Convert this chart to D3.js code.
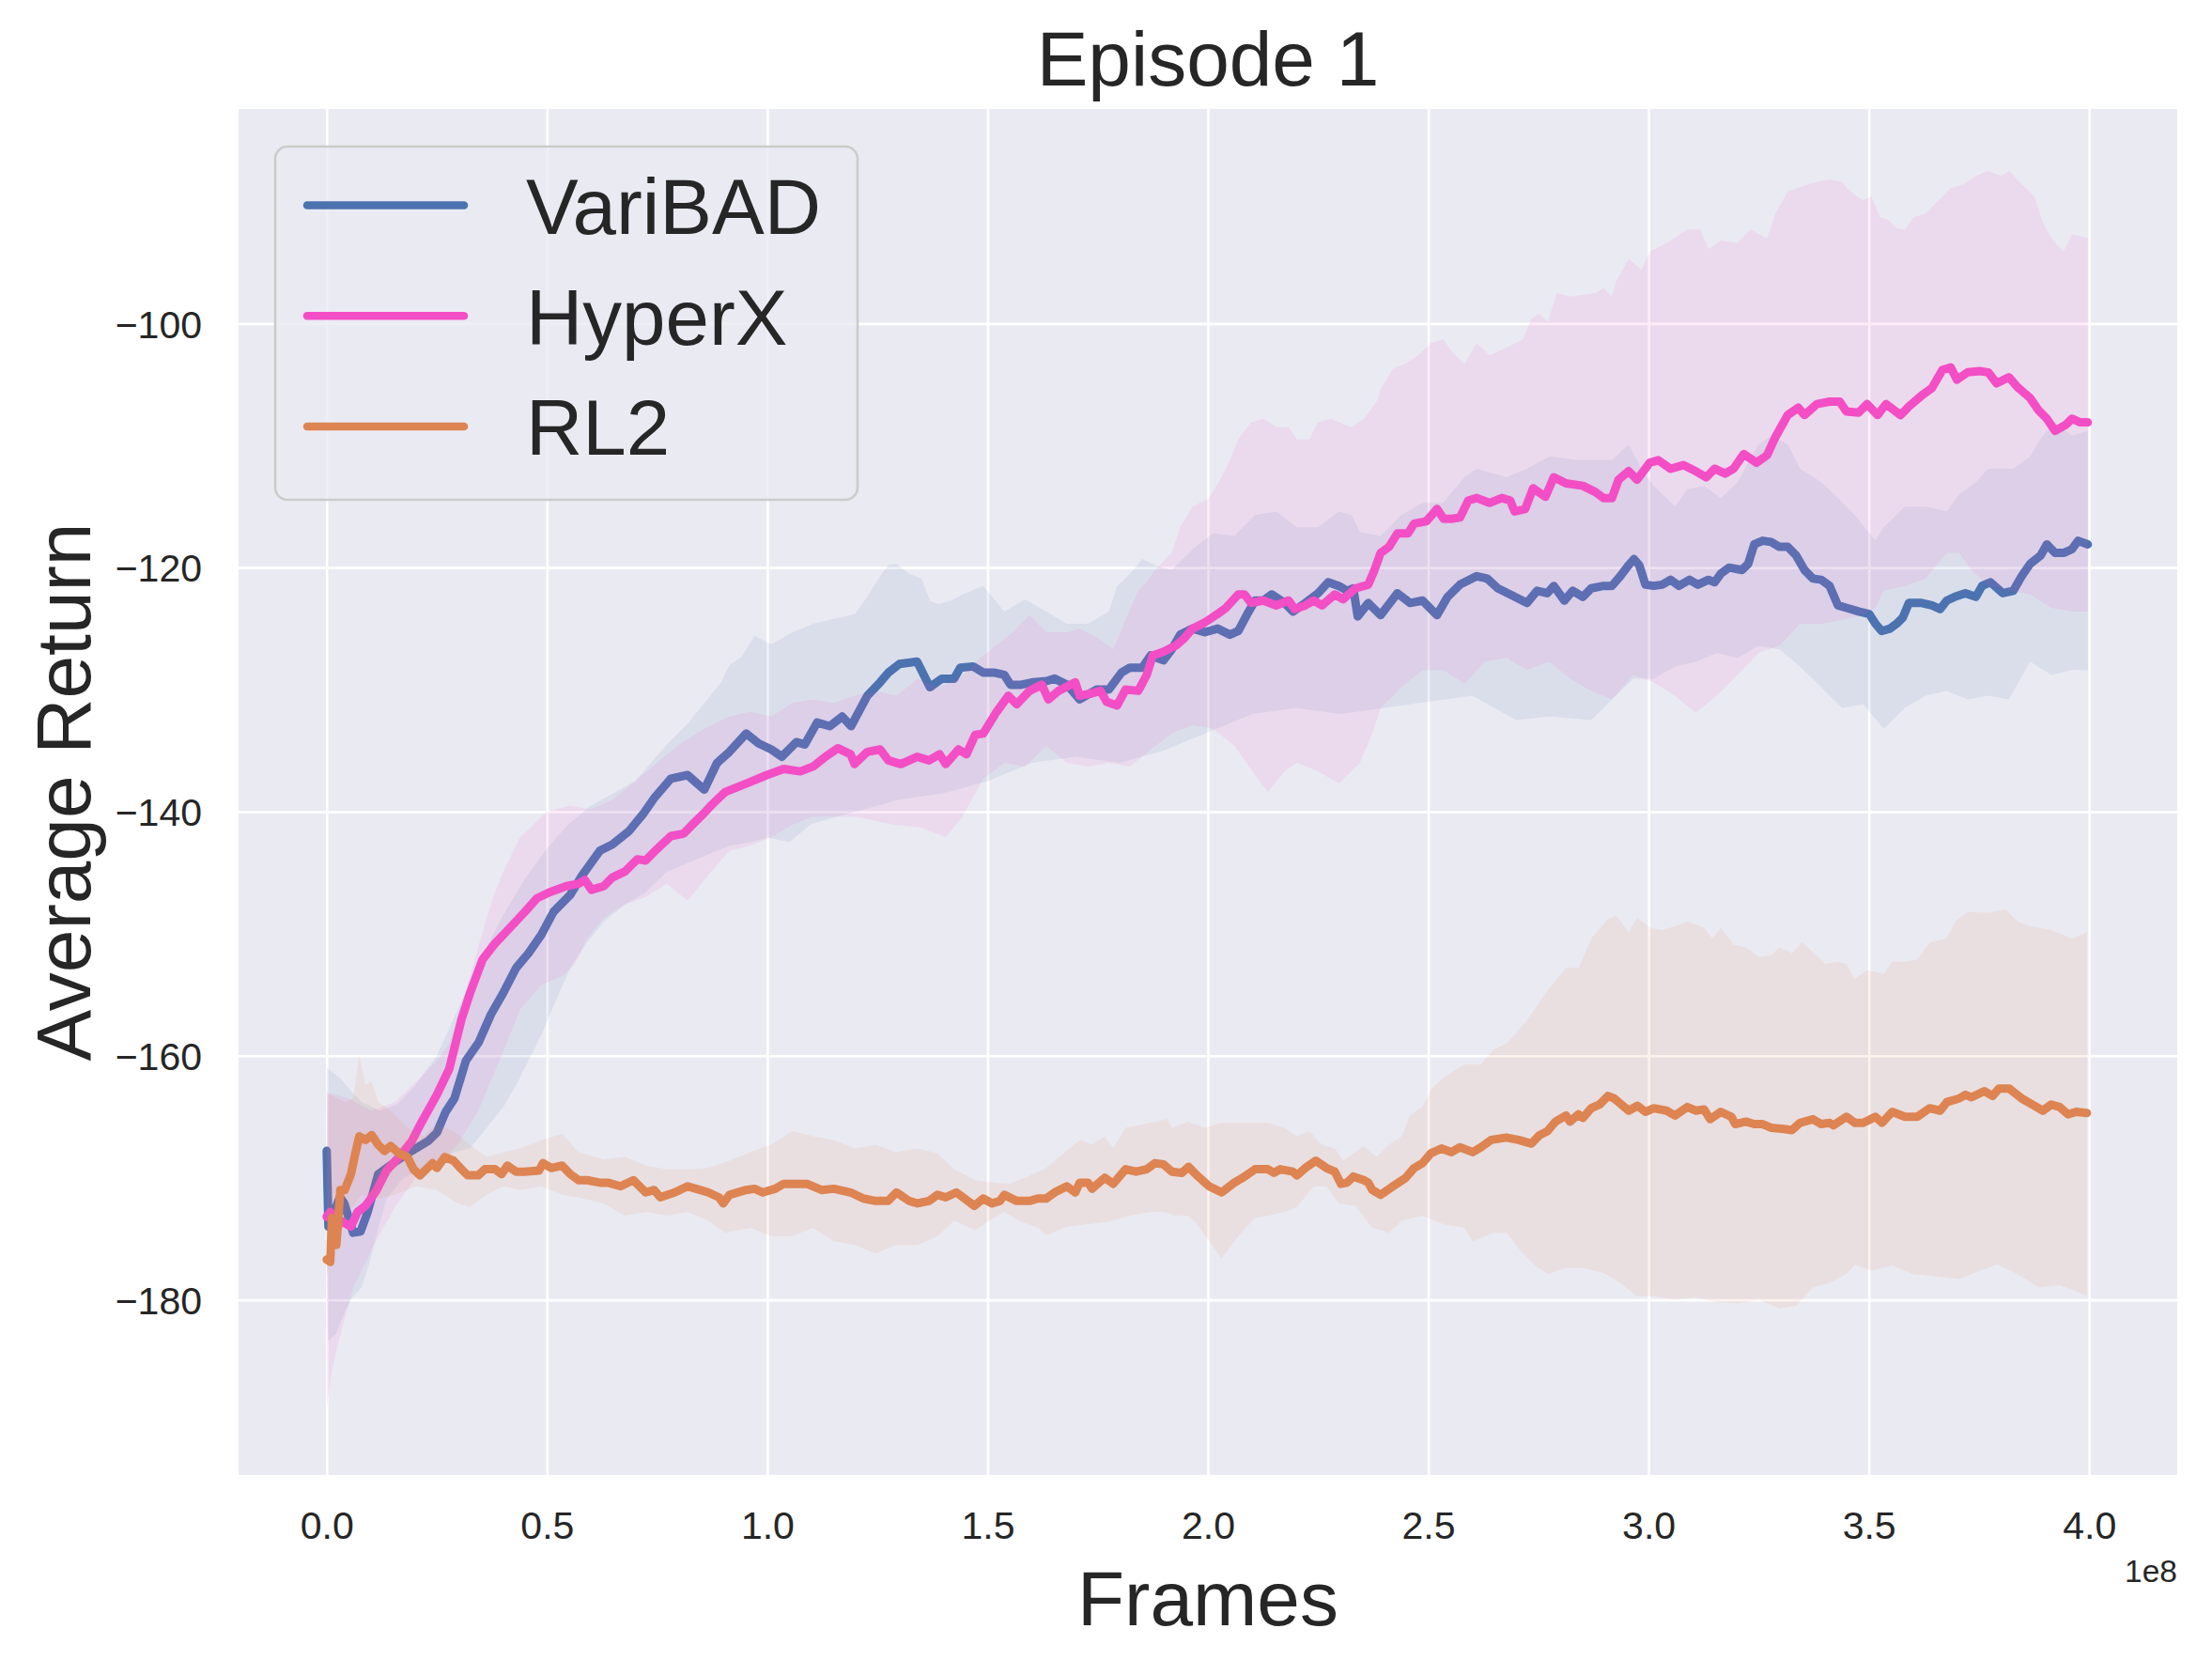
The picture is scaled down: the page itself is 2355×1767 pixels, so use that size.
<!DOCTYPE html>
<html>
<head>
    <meta charset="utf-8" />
    <title>Episode 1</title>
    <style>
        body{
            margin:0;
            background:#fff;
        }
        text{
            font-family:"Liberation Sans", Arial, sans-serif;
            fill:#262626;
        }
    </style>
</head>
<body>
    <div id="chart"></div>
    <script src="https://cdn.jsdelivr.net/npm/d3@7"></script>
    <script>
        // x in units of 1e8 frames, y = average return
        var seriesNames = ["VariBAD", "HyperX", "RL2"];
        var seriesColors = ["#4c72b0", "#f34ec5", "#dd8452"];
        var xTicks = [0, 0.5, 1, 1.5, 2, 2.5, 3, 3.5, 4];
        var yTicks = [-180, -160, -140, -120, -100];
        var xLimits = [-0.2, 4.2];
        var yLimits = [-194.35, -82.42];

        var varibadMean = [[0,-167.8],[0.004,-174],[0.02,-172.5],[0.03,-171.6],[0.04,-172.1],[0.06,-174.5],[0.077,-174.4],[0.093,-172.8],[0.117,-169.7],[0.155,-168.7],[0.193,-167.8],[0.23,-167],[0.25,-166.3],[0.27,-164.6],[0.29,-163.5],[0.316,-160.4],[0.345,-158.9],[0.373,-156.6],[0.4,-154.9],[0.43,-152.8],[0.458,-151.6],[0.487,-150.1],[0.515,-148.2],[0.553,-146.8],[0.58,-145.2],[0.62,-143.2],[0.648,-142.7],[0.686,-141.6],[0.72,-140.1],[0.743,-138.9],[0.781,-137.3],[0.819,-137.0],[0.857,-138.2],[0.886,-136.0],[0.914,-135.1],[0.952,-133.6],[0.98,-134.4],[1.009,-134.9],[1.033,-135.5],[1.066,-134.3],[1.085,-134.5],[1.113,-132.7],[1.142,-133.0],[1.17,-132.2],[1.19,-133.0],[1.227,-130.5],[1.256,-129.4],[1.275,-128.6],[1.3,-127.9],[1.34,-127.7],[1.369,-129.8],[1.396,-129.1],[1.424,-129.1],[1.438,-128.2],[1.467,-128.1],[1.49,-128.6],[1.514,-128.6],[1.538,-128.8],[1.552,-129.6],[1.576,-129.6],[1.604,-129.4],[1.633,-129.3],[1.652,-129.1],[1.68,-129.6],[1.709,-130.8],[1.747,-130.0],[1.775,-130.0],[1.804,-128.6],[1.823,-128.2],[1.851,-128.2],[1.87,-127.2],[1.899,-127.6],[1.918,-126.7],[1.937,-125.5],[1.965,-125.0],[1.993,-125.3],[2.022,-125.0],[2.05,-125.5],[2.069,-125.2],[2.088,-123.9],[2.107,-122.7],[2.126,-122.7],[2.145,-122.2],[2.174,-122.9],[2.193,-123.6],[2.221,-122.9],[2.25,-122.1],[2.273,-121.2],[2.297,-121.5],[2.316,-121.9],[2.33,-121.7],[2.34,-124.0],[2.364,-122.9],[2.392,-123.9],[2.43,-122.1],[2.459,-122.9],[2.487,-122.7],[2.52,-123.9],[2.544,-122.4],[2.572,-121.4],[2.61,-120.7],[2.634,-120.9],[2.658,-121.7],[2.686,-122.2],[2.724,-122.9],[2.747,-121.9],[2.77,-122.1],[2.785,-121.5],[2.809,-122.7],[2.828,-121.9],[2.851,-122.4],[2.87,-121.7],[2.898,-121.5],[2.917,-121.5],[2.936,-120.7],[2.955,-119.8],[2.967,-119.3],[2.979,-119.8],[2.993,-121.4],[3.012,-121.5],[3.031,-121.4],[3.05,-121.0],[3.069,-121.5],[3.093,-121.0],[3.112,-121.4],[3.136,-121.0],[3.15,-121.2],[3.164,-120.5],[3.183,-120.0],[3.212,-120.2],[3.226,-119.7],[3.24,-118.1],[3.259,-117.8],[3.278,-117.9],[3.297,-118.3],[3.316,-118.3],[3.335,-119.0],[3.354,-120.2],[3.373,-120.9],[3.392,-121.0],[3.411,-121.5],[3.43,-123.1],[3.449,-123.3],[3.477,-123.6],[3.501,-123.8],[3.515,-124.6],[3.529,-125.2],[3.548,-125.0],[3.563,-124.6],[3.577,-124.1],[3.591,-122.9],[3.62,-122.9],[3.643,-123.1],[3.662,-123.4],[3.677,-122.7],[3.695,-122.4],[3.719,-122.1],[3.743,-122.4],[3.757,-121.5],[3.776,-121.2],[3.804,-122.1],[3.828,-121.9],[3.847,-120.7],[3.866,-119.7],[3.89,-119.0],[3.904,-118.1],[3.923,-118.8],[3.942,-118.8],[3.961,-118.5],[3.975,-117.8],[3.997,-118.1]];
        var varibadUpper = [[0,-161],[0.03,-161.8],[0.06,-163.1],[0.08,-163.8],[0.12,-164.5],[0.16,-164],[0.2,-162.5],[0.25,-160],[0.3,-156],[0.35,-152],[0.4,-148.5],[0.45,-145.5],[0.5,-143],[0.55,-141],[0.6,-139.5],[0.65,-138.5],[0.7,-137.5],[0.772,-134.5],[0.819,-132.8],[0.866,-130.7],[0.895,-129.4],[0.914,-128.0],[0.942,-127.3],[0.971,-125.6],[1.009,-126.3],[1.057,-125.3],[1.104,-124.6],[1.151,-124.2],[1.199,-123.8],[1.227,-122.4],[1.256,-120.7],[1.275,-119.8],[1.294,-119.7],[1.322,-120.5],[1.35,-120.9],[1.369,-122.7],[1.388,-123.0],[1.417,-122.7],[1.443,-122.2],[1.49,-121.5],[1.538,-123.6],[1.585,-122.6],[1.633,-123.6],[1.68,-124.6],[1.728,-124.6],[1.775,-123.6],[1.794,-121.5],[1.823,-120.5],[1.851,-119.3],[1.88,-119.8],[1.918,-120.2],[1.965,-118.5],[2.012,-117.2],[2.06,-117.4],[2.107,-115.7],[2.155,-115.4],[2.202,-116.7],[2.25,-116.7],[2.297,-115.4],[2.326,-115.7],[2.345,-117.1],[2.392,-117.4],[2.439,-115.7],[2.487,-114.7],[2.534,-114.7],[2.582,-112.6],[2.61,-111.9],[2.677,-112.6],[2.724,-111.9],[2.775,-110.9],[2.841,-111.2],[2.917,-111.2],[2.955,-109.9],[2.984,-111.9],[3.012,-113.3],[3.06,-115.0],[3.088,-113.6],[3.126,-113.3],[3.164,-114.3],[3.202,-113.0],[3.25,-109.9],[3.278,-109.2],[3.316,-109.9],[3.344,-111.9],[3.392,-113.0],[3.43,-114.3],[3.468,-115.7],[3.515,-117.8],[3.534,-116.7],[3.582,-115.0],[3.629,-115.0],[3.677,-115.4],[3.705,-114.0],[3.743,-113.0],[3.771,-111.9],[3.828,-111.9],[3.866,-110.9],[3.894,-109.2],[3.923,-108.1],[3.961,-109.2],[3.997,-108.8]];
        var varibadLower = [[0,-176],[0.003,-183.4],[0.022,-182.7],[0.041,-181],[0.06,-179.7],[0.079,-179],[0.098,-176.9],[0.117,-174.1],[0.136,-171.7],[0.174,-170],[0.212,-169.3],[0.25,-168.6],[0.288,-167.9],[0.325,-167.6],[0.363,-165.9],[0.401,-164.2],[0.43,-162.4],[0.458,-160.4],[0.487,-158.3],[0.515,-155.9],[0.553,-152.8],[0.591,-150.7],[0.629,-149],[0.677,-147.6],[0.724,-146.6],[0.772,-144.9],[0.819,-144.2],[0.866,-143.5],[0.914,-142.8],[0.961,-142.5],[1.0,-142.1],[1.05,-142.5],[1.1,-141],[1.2,-140],[1.3,-139],[1.4,-138.5],[1.5,-137.5],[1.6,-136],[1.7,-135.5],[1.8,-136],[1.9,-135],[2.0,-133.5],[2.1,-132],[2.2,-131.5],[2.3,-132],[2.4,-131.5],[2.5,-131],[2.6,-130.5],[2.7,-132.5],[2.775,-132.2],[2.87,-132.5],[2.917,-130.8],[2.965,-129.1],[3.012,-129.1],[3.06,-128.1],[3.107,-127.7],[3.155,-127.0],[3.202,-127.4],[3.25,-126.4],[3.297,-126.7],[3.344,-128.1],[3.392,-129.8],[3.439,-131.5],[3.487,-131.2],[3.534,-133.2],[3.582,-131.5],[3.629,-130.5],[3.677,-130.1],[3.724,-130.8],[3.771,-130.5],[3.818,-130.8],[3.866,-127.7],[3.914,-128.8],[3.961,-128.4],[3.997,-128.4]];

        var hyperxMean = [[0,-173.2],[0.008,-172.8],[0.02,-173.3],[0.04,-173.7],[0.055,-174],[0.07,-172.8],[0.088,-172.3],[0.112,-171.1],[0.136,-169.4],[0.164,-168.3],[0.193,-167],[0.216,-165.4],[0.25,-163.2],[0.278,-161.1],[0.306,-157],[0.325,-154.9],[0.354,-152.1],[0.382,-150.8],[0.411,-149.7],[0.45,-148.2],[0.477,-147.1],[0.506,-146.6],[0.544,-146.1],[0.572,-145.9],[0.586,-145.6],[0.601,-146.4],[0.629,-146.1],[0.648,-145.4],[0.677,-144.9],[0.705,-143.9],[0.724,-144],[0.743,-143.3],[0.781,-142],[0.81,-141.8],[0.829,-141.1],[0.857,-140.1],[0.875,-139.4],[0.904,-138.4],[0.952,-137.7],[0.999,-137.0],[1.037,-136.5],[1.075,-136.7],[1.104,-136.3],[1.132,-135.5],[1.16,-134.8],[1.189,-135.3],[1.198,-136.1],[1.227,-135.1],[1.256,-134.9],[1.275,-135.8],[1.303,-136.1],[1.34,-135.5],[1.367,-135.8],[1.391,-135.3],[1.405,-136.1],[1.434,-134.9],[1.452,-135.3],[1.472,-133.7],[1.49,-133.6],[1.519,-131.9],[1.547,-130.5],[1.566,-131.2],[1.595,-130.1],[1.623,-129.6],[1.638,-130.8],[1.661,-130.1],[1.699,-129.4],[1.709,-130.5],[1.737,-130.3],[1.756,-130.1],[1.77,-131],[1.794,-131.3],[1.813,-130.0],[1.842,-130.1],[1.861,-128.8],[1.875,-127.2],[1.899,-126.9],[1.927,-126.4],[1.946,-125.8],[1.965,-125.0],[1.993,-124.5],[2.022,-123.8],[2.041,-123.3],[2.069,-122.2],[2.083,-122.2],[2.098,-122.9],[2.126,-122.7],[2.155,-123.1],[2.183,-122.7],[2.197,-123.4],[2.221,-123.1],[2.24,-122.7],[2.259,-123.1],[2.288,-122.2],[2.307,-122.6],[2.335,-121.7],[2.364,-121.4],[2.378,-120.2],[2.392,-118.8],[2.411,-118.3],[2.43,-117.2],[2.454,-117.2],[2.468,-116.4],[2.496,-116.2],[2.52,-115.2],[2.535,-116.0],[2.553,-116.0],[2.572,-115.9],[2.591,-114.5],[2.61,-114.3],[2.639,-114.7],[2.667,-114.3],[2.686,-114.5],[2.696,-115.4],[2.72,-115.2],[2.738,-113.5],[2.766,-114.2],[2.785,-112.6],[2.813,-113.1],[2.851,-113.3],[2.879,-113.8],[2.898,-114.3],[2.917,-114.3],[2.932,-112.8],[2.955,-112.1],[2.974,-112.8],[3.003,-111.4],[3.022,-111.2],[3.05,-111.9],[3.079,-111.6],[3.107,-112.1],[3.131,-112.6],[3.15,-111.9],[3.174,-112.3],[3.193,-111.9],[3.216,-110.7],[3.245,-111.4],[3.269,-110.8],[3.288,-109.3],[3.316,-107.5],[3.34,-106.9],[3.354,-107.5],[3.382,-106.6],[3.411,-106.4],[3.434,-106.4],[3.449,-107.2],[3.477,-107.3],[3.496,-106.6],[3.52,-107.5],[3.539,-106.6],[3.572,-107.5],[3.591,-106.8],[3.62,-105.9],[3.643,-105.3],[3.667,-103.8],[3.686,-103.6],[3.7,-104.6],[3.724,-104.0],[3.752,-103.9],[3.771,-104.0],[3.79,-104.9],[3.818,-104.4],[3.837,-105.2],[3.866,-106.1],[3.885,-107.1],[3.904,-107.8],[3.923,-108.8],[3.947,-108.3],[3.961,-107.8],[3.98,-108.1],[3.997,-108.1]];
        var hyperxUpper = [[0,-163],[0.05,-163.5],[0.1,-164.5],[0.155,-163.8],[0.212,-161.8],[0.25,-160.4],[0.278,-159.0],[0.306,-155.9],[0.325,-153.5],[0.344,-151.1],[0.363,-148.7],[0.382,-146.6],[0.401,-144.9],[0.42,-143.5],[0.439,-142.1],[0.468,-141.1],[0.496,-140.1],[0.55,-139.5],[0.6,-139.8],[0.65,-139],[0.7,-137.5],[0.75,-136],[0.8,-134.5],[0.857,-133.2],[0.914,-132.2],[0.961,-131.8],[1.009,-132.2],[1.057,-131.1],[1.104,-130.8],[1.151,-131.1],[1.199,-130.5],[1.246,-130.1],[1.294,-130.5],[1.34,-129.1],[1.388,-129.8],[1.436,-129.1],[1.48,-127.5],[1.519,-126.4],[1.557,-125.3],[1.595,-123.9],[1.633,-125.3],[1.68,-125.3],[1.709,-125.0],[1.747,-125.7],[1.785,-126.7],[1.813,-124.3],[1.842,-121.9],[1.861,-121.2],[1.88,-120.2],[1.918,-118.8],[1.937,-116.7],[1.965,-115.0],[2.003,-114.3],[2.031,-112.6],[2.05,-111.2],[2.069,-109.5],[2.098,-108.1],[2.126,-107.8],[2.155,-108.5],[2.183,-108.5],[2.202,-109.5],[2.23,-109.5],[2.25,-108.1],[2.278,-107.8],[2.326,-108.5],[2.354,-107.8],[2.383,-106.4],[2.392,-105.4],[2.42,-103.7],[2.449,-103.3],[2.477,-102.6],[2.506,-101.6],[2.534,-101.3],[2.553,-102.3],[2.582,-103.3],[2.61,-101.6],[2.639,-102.6],[2.677,-102.0],[2.715,-101.3],[2.734,-99.6],[2.753,-99.2],[2.772,-99.9],[2.791,-97.5],[2.822,-97.8],[2.879,-97.5],[2.898,-97.1],[2.917,-97.8],[2.927,-96.5],[2.955,-94.7],[2.984,-95.6],[3.003,-94.1],[3.041,-93.4],[3.088,-92.3],[3.117,-92.3],[3.136,-93.9],[3.164,-93.2],[3.202,-93.4],[3.231,-92.3],[3.269,-93.0],[3.288,-91.0],[3.316,-89.2],[3.354,-88.7],[3.382,-88.4],[3.411,-88.2],[3.439,-88.4],[3.458,-89.2],[3.487,-89.9],[3.506,-89.6],[3.525,-91.3],[3.544,-91.5],[3.563,-92.2],[3.582,-92.3],[3.601,-91.3],[3.629,-91.0],[3.658,-89.9],[3.686,-88.9],[3.715,-88.6],[3.743,-87.9],[3.771,-87.5],[3.8,-87.9],[3.819,-87.5],[3.847,-88.6],[3.876,-89.6],[3.895,-91.7],[3.914,-93.0],[3.942,-94.1],[3.961,-92.7],[3.997,-93.0]];
        var hyperxLower = [[0,-189],[0.01,-186],[0.03,-183],[0.06,-179],[0.107,-175.5],[0.155,-172.4],[0.202,-170],[0.25,-169],[0.297,-167.3],[0.344,-164.5],[0.392,-160.4],[0.439,-156.2],[0.487,-154.2],[0.534,-153.5],[0.563,-152.5],[0.591,-150.4],[0.629,-148.7],[0.677,-147.6],[0.724,-147],[0.772,-145.9],[0.819,-147.3],[0.866,-145.2],[0.914,-143.2],[0.961,-142.8],[1.009,-142.1],[1.056,-141.1],[1.104,-140.4],[1.2,-140.4],[1.29,-141.1],[1.348,-141.3],[1.405,-142.1],[1.443,-140.4],[1.49,-137.3],[1.538,-136],[1.585,-136.3],[1.633,-134.6],[1.68,-136.0],[1.728,-136.3],[1.775,-136.0],[1.823,-136.3],[1.87,-134.9],[1.918,-133.6],[1.965,-132.9],[2.012,-133.2],[2.06,-134.6],[2.107,-137.0],[2.136,-138.4],[2.174,-136.7],[2.202,-136.0],[2.25,-136.7],[2.297,-137.7],[2.345,-136.0],[2.373,-133.6],[2.392,-131.5],[2.439,-129.8],[2.487,-128.4],[2.534,-128.4],[2.582,-129.5],[2.629,-127.7],[2.677,-127.4],[2.724,-128.4],[2.775,-127.7],[2.822,-129.1],[2.87,-130.1],[2.917,-130.8],[2.965,-128.8],[3.012,-129.4],[3.06,-130.5],[3.107,-131.9],[3.155,-130.5],[3.202,-128.8],[3.25,-127.0],[3.297,-126.4],[3.344,-124.6],[3.392,-124.6],[3.439,-124.3],[3.487,-123.9],[3.515,-123.3],[3.534,-121.9],[3.582,-121.5],[3.629,-120.9],[3.677,-118.8],[3.705,-118.8],[3.733,-120.2],[3.771,-121.5],[3.818,-121.9],[3.866,-122.2],[3.914,-123.3],[3.961,-123.6],[3.997,-123.6]];

        var rl2Mean = [[0,-176.7],[0.008,-176.9],[0.012,-173.3],[0.022,-175.5],[0.031,-171.0],[0.041,-171.0],[0.055,-169.7],[0.065,-168],[0.074,-166.6],[0.088,-166.9],[0.102,-166.5],[0.117,-167.3],[0.131,-167.8],[0.145,-167.4],[0.164,-168],[0.183,-168.3],[0.197,-169.3],[0.212,-169.8],[0.24,-168.8],[0.25,-169.2],[0.268,-168.3],[0.288,-168.6],[0.306,-169.3],[0.32,-169.8],[0.344,-169.8],[0.359,-169.3],[0.382,-169.3],[0.397,-169.7],[0.41,-169.0],[0.43,-169.5],[0.449,-169.5],[0.482,-169.4],[0.491,-168.8],[0.51,-169.2],[0.534,-169.0],[0.553,-169.7],[0.572,-170.2],[0.591,-170.2],[0.62,-170.4],[0.638,-170.4],[0.667,-170.7],[0.696,-170.2],[0.724,-171.2],[0.743,-171.0],[0.757,-171.6],[0.79,-171.2],[0.819,-170.7],[0.838,-170.9],[0.866,-171.2],[0.89,-171.6],[0.9,-172.1],[0.914,-171.4],[0.952,-171.0],[0.971,-170.9],[0.99,-171.2],[1.018,-170.9],[1.037,-170.5],[1.066,-170.5],[1.09,-170.5],[1.123,-171.0],[1.151,-170.9],[1.189,-171.2],[1.218,-171.7],[1.246,-171.9],[1.274,-171.9],[1.293,-171.2],[1.322,-171.9],[1.341,-172.1],[1.367,-171.9],[1.386,-171.4],[1.405,-171.6],[1.429,-171.2],[1.448,-171.7],[1.47,-172.3],[1.49,-171.7],[1.51,-172.1],[1.528,-171.9],[1.538,-171.4],[1.566,-171.9],[1.595,-171.9],[1.614,-171.7],[1.633,-171.7],[1.652,-171.2],[1.68,-170.7],[1.699,-171.2],[1.709,-170.4],[1.728,-170.4],[1.737,-170.9],[1.766,-170.0],[1.785,-170.5],[1.813,-169.3],[1.837,-169.5],[1.861,-169.3],[1.88,-168.8],[1.899,-168.9],[1.918,-169.5],[1.941,-169.6],[1.956,-169.1],[1.975,-169.8],[2.003,-170.7],[2.031,-171.2],[2.06,-170.4],[2.079,-170.0],[2.107,-169.3],[2.136,-169.3],[2.15,-169.6],[2.164,-169.3],[2.193,-169.5],[2.202,-169.8],[2.221,-169.2],[2.245,-168.6],[2.269,-169.2],[2.288,-169.5],[2.302,-170.5],[2.316,-170.4],[2.33,-169.9],[2.354,-170.2],[2.364,-170.4],[2.373,-171.0],[2.392,-171.4],[2.42,-170.7],[2.449,-170.0],[2.468,-169.2],[2.487,-168.8],[2.506,-168.0],[2.53,-167.6],[2.553,-167.9],[2.572,-167.5],[2.601,-167.9],[2.62,-167.5],[2.643,-166.9],[2.677,-166.7],[2.705,-166.9],[2.734,-167.2],[2.753,-166.5],[2.77,-166.2],[2.789,-165.4],[2.813,-164.9],[2.822,-165.4],[2.841,-164.8],[2.851,-165.1],[2.87,-164.3],[2.889,-164.0],[2.908,-163.3],[2.922,-163.5],[2.932,-163.8],[2.955,-164.5],[2.975,-164.1],[2.993,-164.6],[3.012,-164.3],[3.041,-164.5],[3.06,-164.9],[3.088,-164.2],[3.107,-164.5],[3.126,-164.4],[3.14,-165.2],[3.164,-164.6],[3.188,-165.0],[3.197,-165.6],[3.221,-165.4],[3.24,-165.6],[3.259,-165.6],[3.278,-165.9],[3.307,-166.0],[3.325,-166.1],[3.344,-165.5],[3.373,-165.2],[3.392,-165.6],[3.411,-165.5],[3.42,-165.7],[3.449,-165.0],[3.468,-165.5],[3.487,-165.5],[3.515,-165.0],[3.53,-165.5],[3.553,-164.6],[3.582,-165.0],[3.61,-165.0],[3.638,-164.3],[3.662,-164.5],[3.677,-163.8],[3.705,-163.5],[3.719,-163.2],[3.733,-163.4],[3.762,-162.9],[3.781,-163.3],[3.795,-162.7],[3.819,-162.7],[3.847,-163.5],[3.876,-164.1],[3.895,-164.5],[3.914,-164.0],[3.933,-164.2],[3.952,-164.8],[3.971,-164.6],[3.995,-164.7]];
        var rl2Upper = [[0,-172],[0.003,-163.1],[0.041,-163.8],[0.06,-163.5],[0.074,-160.0],[0.088,-162.4],[0.102,-162.1],[0.117,-163.8],[0.145,-164.5],[0.183,-165.9],[0.221,-166.6],[0.25,-165.5],[0.288,-166.2],[0.325,-167.3],[0.363,-168.3],[0.401,-167.9],[0.439,-167.6],[0.487,-166.9],[0.534,-166.4],[0.572,-167.9],[0.629,-168.5],[0.677,-168.3],[0.724,-169.0],[0.772,-169.3],[0.819,-169.3],[0.866,-169.2],[0.914,-168.6],[0.961,-167.9],[1.009,-167.3],[1.056,-166.2],[1.104,-166.6],[1.151,-166.9],[1.199,-167.6],[1.246,-167.3],[1.293,-167.9],[1.341,-167.6],[1.386,-168.0],[1.424,-169.3],[1.472,-170.2],[1.519,-170.4],[1.547,-170.5],[1.585,-170.0],[1.633,-169.2],[1.68,-167.8],[1.709,-166.9],[1.737,-167.3],[1.766,-166.6],[1.785,-167.6],[1.813,-165.9],[1.87,-165.5],[1.908,-165.2],[1.918,-165.9],[1.956,-165.4],[1.993,-165.9],[2.031,-165.5],[2.069,-165.5],[2.107,-165.5],[2.136,-165.5],[2.174,-165.9],[2.202,-166.6],[2.23,-166.2],[2.259,-167.3],[2.288,-167.6],[2.307,-168.6],[2.354,-167.4],[2.383,-168.3],[2.411,-167.3],[2.44,-166.6],[2.458,-164.9],[2.487,-164.2],[2.506,-162.8],[2.534,-161.8],[2.582,-160.7],[2.62,-160.7],[2.648,-159.5],[2.677,-159.0],[2.696,-158.3],[2.724,-157.1],[2.766,-154.9],[2.813,-152.8],[2.842,-152.8],[2.87,-150.4],[2.908,-148.8],[2.927,-148.5],[2.955,-149.9],[2.974,-148.7],[3.003,-149.5],[3.031,-149.7],[3.06,-149.4],[3.088,-149.0],[3.126,-149.5],[3.145,-150.4],[3.164,-149.5],[3.193,-150.9],[3.221,-151.1],[3.25,-151.9],[3.278,-151.8],[3.297,-151.1],[3.326,-151.6],[3.349,-150.7],[3.382,-151.8],[3.401,-152.5],[3.43,-152.3],[3.449,-152.5],[3.468,-153.7],[3.496,-153.0],[3.534,-153.3],[3.553,-152.3],[3.582,-152.3],[3.61,-152.1],[3.639,-150.7],[3.677,-150.4],[3.696,-149.0],[3.724,-148.2],[3.772,-148.3],[3.81,-148.0],[3.838,-149.0],[3.866,-149.4],[3.914,-149.7],[3.961,-150.4],[3.995,-149.9]];
        var rl2Lower = [[0,-178],[0.022,-175.5],[0.05,-172.8],[0.079,-171.4],[0.117,-171.7],[0.155,-171.4],[0.202,-170.7],[0.25,-171.0],[0.297,-172.1],[0.325,-172.4],[0.363,-171.4],[0.401,-170.7],[0.439,-171.0],[0.487,-170.7],[0.534,-171.4],[0.582,-171.7],[0.629,-172.1],[0.677,-173.1],[0.724,-172.8],[0.772,-173.1],[0.819,-172.8],[0.866,-173.5],[0.904,-174.5],[0.961,-174.1],[1.009,-174.8],[1.056,-174.8],[1.104,-174.1],[1.151,-175.2],[1.199,-175.5],[1.246,-176.2],[1.293,-175.5],[1.341,-175.5],[1.386,-174.8],[1.424,-173.5],[1.472,-174.3],[1.5,-173.6],[1.538,-172.8],[1.576,-173.6],[1.614,-174.1],[1.633,-174.7],[1.68,-174.0],[1.728,-173.8],[1.775,-173.6],[1.823,-173.1],[1.87,-172.8],[1.899,-172.8],[1.927,-173.1],[1.956,-173.1],[1.975,-173.8],[2.003,-175.2],[2.031,-176.6],[2.069,-174.8],[2.107,-173.3],[2.136,-173.1],[2.174,-172.8],[2.202,-172.4],[2.24,-170.7],[2.269,-170.7],[2.297,-172.1],[2.335,-172.3],[2.373,-174.1],[2.411,-174.5],[2.44,-173.5],[2.487,-173.1],[2.534,-173.8],[2.582,-174.1],[2.601,-175.2],[2.648,-174.5],[2.677,-174.5],[2.715,-176.2],[2.743,-177.2],[2.772,-177.9],[2.81,-177.4],[2.851,-177.4],[2.898,-177.8],[2.936,-178.6],[2.974,-179.7],[3.012,-179.7],[3.06,-180.0],[3.107,-179.8],[3.155,-180.2],[3.202,-180.3],[3.25,-180.0],[3.297,-180.7],[3.335,-180.5],[3.373,-179.0],[3.411,-178.6],[3.449,-177.9],[3.468,-177.1],[3.506,-177.6],[3.553,-177.2],[3.601,-177.9],[3.658,-178.1],[3.705,-178.3],[3.753,-177.6],[3.791,-177.1],[3.838,-177.9],[3.885,-179.0],[3.933,-178.8],[3.971,-179.3],[3.995,-179.7]];

        var width = 2355;
        var height = 1767;
        var plot = { left: 254, right: 2318, top: 116, bottom: 1570 };

        var series = [
            { name: seriesNames[0], color: seriesColors[0], mean: varibadMean, upper: varibadUpper, lower: varibadLower },
            { name: seriesNames[1], color: seriesColors[1], mean: hyperxMean, upper: hyperxUpper, lower: hyperxLower },
            { name: seriesNames[2], color: seriesColors[2], mean: rl2Mean, upper: rl2Upper, lower: rl2Lower }
        ];

        var svg = d3.select("#chart")
            .append("svg")
            .attr("width", width)
            .attr("height", height)
            .style("display", "block");

        var x = d3.scaleLinear().domain(xLimits).range([plot.left, plot.right]);
        var y = d3.scaleLinear().domain(yLimits).range([plot.bottom, plot.top]);

        // background + grid
        svg.append("rect")
            .attr("x", plot.left)
            .attr("y", plot.top)
            .attr("width", plot.right - plot.left)
            .attr("height", plot.bottom - plot.top)
            .attr("fill", "#eaeaf2");

        svg.append("g")
            .attr("class", "x grid")
            .attr("transform", "translate(0," + plot.bottom + ")")
            .call(d3.axisBottom(x).tickValues(xTicks).tickSize(-(plot.bottom - plot.top)).tickFormat(""))
            .call(g => g.select(".domain").remove())
            .selectAll("line").attr("stroke", "#fff").attr("stroke-width", 2.6);

        svg.append("g")
            .attr("class", "y grid")
            .attr("transform", "translate(" + plot.left + ",0)")
            .call(d3.axisLeft(y).tickValues(yTicks).tickSize(-(plot.right - plot.left)).tickFormat(""))
            .call(g => g.select(".domain").remove())
            .selectAll("line").attr("stroke", "#fff").attr("stroke-width", 2.6);

        // tick labels
        var xAxis = svg.append("g")
            .attr("class", "x axis")
            .attr("transform", "translate(0," + plot.bottom + ")")
            .call(d3.axisBottom(x).tickValues(xTicks).tickSize(0).tickPadding(68).tickFormat(d3.format(".1f")));
        xAxis.select(".domain").remove();
        xAxis.selectAll("text")
            .attr("font-size", 41)
            .attr("dy", 0)
            .attr("fill", "#262626");

        var yAxis = svg.append("g")
            .attr("class", "y axis")
            .attr("transform", "translate(" + plot.left + ",0)")
            .call(d3.axisLeft(y).tickValues(yTicks).tickSize(0).tickPadding(39).tickFormat(d => "\u2212" + Math.abs(d)));
        yAxis.select(".domain").remove();
        yAxis.selectAll("text")
            .attr("font-size", 41)
            .attr("dy", "0.36em")
            .attr("fill", "#262626");

        // bands and lines
        var lineGen = d3.line()
            .x(d => x(d[0]))
            .y(d => y(d[1]));
        var bandGen = d3.line()
            .x(d => x(d[0]))
            .y(d => y(d[1]))
            .curve(d3.curveLinearClosed);

        series.forEach(function (s) {
            svg.append("path")
                .datum(s.upper.concat(s.lower.slice().reverse()))
                .attr("class", "band")
                .attr("d", bandGen)
                .attr("fill", s.color)
                .attr("fill-opacity", 0.1)
                .attr("stroke", "none");
            svg.append("path")
                .datum(s.mean)
                .attr("class", "line")
                .attr("d", lineGen)
                .attr("fill", "none")
                .attr("stroke", s.color)
                .attr("stroke-width", 9)
                .attr("stroke-linejoin", "round")
                .attr("stroke-linecap", "round");
        });

        // titles
        svg.append("text")
            .attr("x", (plot.left + plot.right) / 2)
            .attr("y", 91)
            .attr("text-anchor", "middle")
            .attr("font-size", 82)
            .text("Episode 1");

        svg.append("text")
            .attr("x", (plot.left + plot.right) / 2)
            .attr("y", 1730)
            .attr("text-anchor", "middle")
            .attr("font-size", 82)
            .text("Frames");

        svg.append("text")
            .attr("transform", "translate(96," + ((plot.top + plot.bottom) / 2) + ") rotate(-90)")
            .attr("text-anchor", "middle")
            .attr("font-size", 82)
            .text("Average Return");

        svg.append("text")
            .attr("x", plot.right)
            .attr("y", 1684)
            .attr("text-anchor", "end")
            .attr("font-size", 33.5)
            .text("1e8");

        // legend
        var legend = svg.append("g").attr("class", "legend");
        legend.append("rect")
            .attr("x", 293)
            .attr("y", 156)
            .attr("width", 620)
            .attr("height", 376)
            .attr("rx", 13)
            .attr("fill", "#eaeaf2")
            .attr("fill-opacity", 0.8)
            .attr("stroke", "#cccccc")
            .attr("stroke-width", 2.6);

        var rows = legend.selectAll(".legend-row")
            .data(series)
            .join("g")
            .attr("class", "legend-row")
            .attr("transform", (d, i) => "translate(0," + (218.5 + i * 117.7) + ")");
        rows.append("line")
            .attr("x1", 327)
            .attr("x2", 494)
            .attr("stroke", d => d.color)
            .attr("stroke-width", 8.5)
            .attr("stroke-linecap", "round");
        rows.append("text")
            .attr("x", 560)
            .attr("y", 30.5)
            .attr("font-size", 83.5)
            .text(d => d.name);
    </script>
</body>
</html>
